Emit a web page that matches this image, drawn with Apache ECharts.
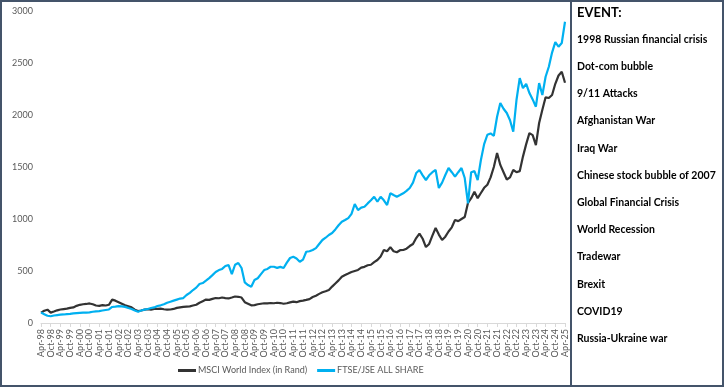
<!DOCTYPE html>
<html><head><meta charset="utf-8">
<script src="https://cdn.jsdelivr.net/npm/echarts@6/dist/echarts.min.js"></script>
<style>html,body{margin:0;padding:0;background:#fff}#c{width:724px;height:387px}</style>
</head><body><div id="c"></div>
<script>
// Bi-monthly observations, Apr-98 .. Apr-25
const startYear = 1998, startMonth = 3, stepMonths = 2, nPoints = 163;
const monthNames = ['Jan','Feb','Mar','Apr','May','Jun','Jul','Aug','Sep','Oct','Nov','Dec'];
const categories = [];
for (let i = 0; i < nPoints; i++) {
  const t = startMonth + i * stepMonths;
  const y = startYear + Math.floor(t / 12);
  categories.push(monthNames[t % 12] + '-' + String(y % 100).padStart(2, '0'));
}
const msciName = 'MSCI World Index (in Rand)';
const jseName = 'FTSE/JSE ALL SHARE';
const msci = [
  100,118,128,100,110,122,
  130,134,138,145,150,165,
  175,180,183,188,180,168,
  165,172,168,175,225,215,
  200,185,170,160,150,128,
  115,120,128,132,128,135,
  135,138,132,128,130,135,
  145,150,155,158,160,168,
  175,195,210,225,222,232,
  240,238,245,240,236,245,
  255,252,245,200,185,170,
  172,180,185,190,188,192,
  190,195,192,185,190,198,
  205,200,210,215,222,230,
  250,262,280,295,305,317,
  350,380,410,445,461,475,
  490,500,510,532,540,555,
  560,585,606,640,702,690,
  730,690,680,700,702,715,
  740,760,817,860,810,730,
  760,840,913,850,798,830,
  880,920,990,980,1000,1019,
  1154,1200,1262,1200,1250,1300,
  1330,1400,1500,1634,1520,1450,
  1380,1400,1471,1450,1460,1600,
  1720,1826,1807,1711,1923,2050,
  2170,2163,2192,2300,2380,2416,
  2310
];
const jse = [
  100,85,70,65,72,76,
  80,82,85,87,92,95,
  98,100,99,102,108,112,
  115,120,125,130,154,158,
  163,160,155,144,135,120,
  109,120,128,135,144,150,
  163,170,180,195,205,215,
  225,235,240,269,290,317,
  340,375,384,407,432,460,
  490,509,520,548,557,470,
  560,577,529,390,365,349,
  413,430,470,509,520,541,
  541,530,540,529,580,625,
  637,620,589,610,685,690,
  702,720,760,798,820,846,
  865,900,940,974,990,1009,
  1050,1144,1086,1110,1118,1150,
  1180,1214,1166,1214,1180,1134,
  1247,1230,1214,1230,1247,1270,
  1298,1350,1442,1471,1420,1375,
  1420,1450,1471,1298,1350,1423,
  1490,1450,1407,1450,1490,1394,
  1150,1450,1460,1375,1567,1720,
  1810,1823,1800,1983,2115,2060,
  2019,1950,1839,2144,2355,2259,
  2300,2211,2150,2080,2307,2192,
  2368,2464,2600,2700,2657,2692,
  2897
];
const yMin = 0, yMax = 3000, yStep = 500;
const events = ['1998 Russian financial crisis','Dot-com bubble','9/11 Attacks','Afghanistan War','Iraq War',
  'Chinese stock bubble of 2007','Global Financial Crisis','World Recession','Tradewar','Brexit','COVID19','Russia-Ukraine war'];

const font = 'Lato, "Open Sans", sans-serif';
const chart = echarts.init(document.getElementById('c'), null, {renderer: 'canvas'});
const graphics = [
  {type:'rect', shape:{x:1,y:1,width:722,height:385}, style:{fill:null, stroke:'#44546A', lineWidth:2}, silent:true},
  {type:'line', shape:{x1:571,y1:0,x2:571,y2:387}, style:{stroke:'#44546A', lineWidth:2}, silent:true},
  {type:'text', left:577, top:6, style:{text:'EVENT:', font:'bold 13px ' + font, fill:'#000'}}
];
events.forEach((e, i) => {
  graphics.push({type:'text', left:577, top:34 + i * 27.2, style:{text:e, font:'bold 10.5px ' + font, fill:'#000'}});
});
chart.setOption({
  animation:false,
  grid:{left:41, right:159, top:11, bottom:64, containLabel:false},
  legend:{left:173, top:361, itemWidth:18, itemHeight:3, itemGap:10, icon:'rect',
    textStyle:{fontFamily:font, fontSize:9, color:'#595959', padding:[0,0,0,-3]}, data:[msciName, jseName]},
  xAxis:{type:'category', data:categories, boundaryGap:false,
    axisLine:{lineStyle:{color:'#d9d9d9', width:1}},
    axisTick:{interval:2, length:4, lineStyle:{color:'#d9d9d9'}},
    axisLabel:{interval:2, rotate:90, fontFamily:font, fontSize:9, color:'#595959', margin:6}},
  yAxis:{type:'value', min:yMin, max:yMax, interval:yStep,
    splitLine:{show:false}, axisLine:{show:false}, axisTick:{show:false},
    axisLabel:{fontFamily:font, fontSize:9, color:'#595959', margin:8, formatter:(v) => String(v)}},
  series:[
    {name:msciName, type:'line', data:msci, showSymbol:false, lineStyle:{color:'#333333', width:2.2}, itemStyle:{color:'#333333'}},
    {name:jseName, type:'line', data:jse, showSymbol:false, lineStyle:{color:'#00B0F0', width:2.2}, itemStyle:{color:'#00B0F0'}}
  ],
  graphic:graphics
});
</script></body></html>
